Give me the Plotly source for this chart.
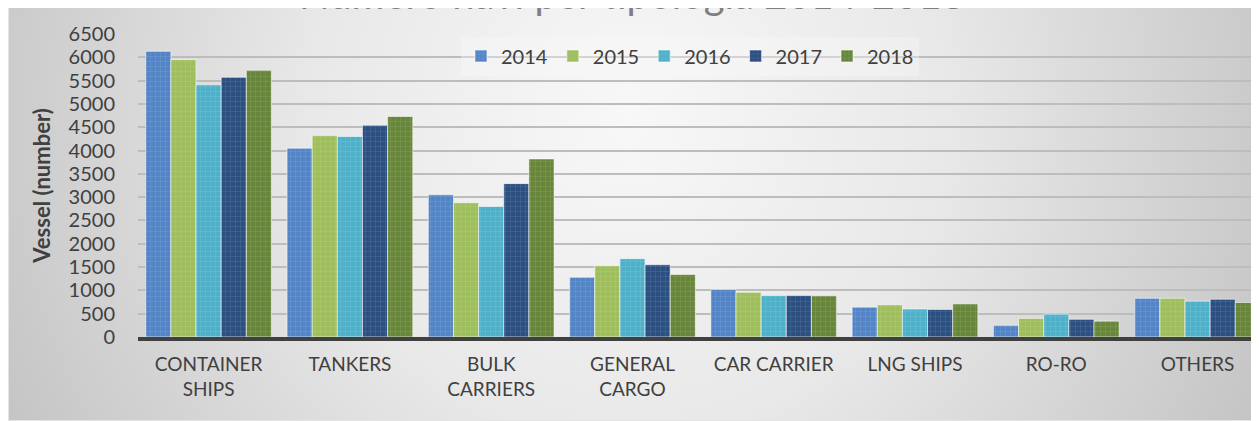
import base64
import plotly.graph_objects as go

categories = ["CONTAINER<br>SHIPS", "TANKERS", "BULK<br>CARRIERS", "GENERAL<br>CARGO",
              "CAR CARRIER", "LNG SHIPS", "RO-RO", "OTHERS"]
years = ["2014", "2015", "2016", "2017", "2018"]
v2014 = [6130, 4050, 3050, 1280, 1020, 640, 250, 830]
v2015 = [5950, 4320, 2880, 1530, 960, 690, 400, 830]
v2016 = [5410, 4300, 2800, 1680, 890, 600, 490, 770]
v2017 = [5570, 4540, 3290, 1550, 890, 590, 380, 810]
v2018 = [5720, 4730, 3820, 1340, 885, 710, 340, 740]
series = [v2014, v2015, v2016, v2017, v2018]
colors = ["#5385c6", "#9fbe5c", "#4fb0c9", "#2c4f82", "#68863a"]
yticks = list(range(0, 6501, 500))

# figure sits at page offset (8, 8) because of the body margin
W, H = 1251, 413
ML, MT, MB = 130, 26, 84
PW = W - ML
PH = H - MT - MB

fig = go.Figure()
for name, vals, col in zip(years, series, colors):
    fig.add_trace(go.Bar(
        name=name, x=categories, y=vals,
        marker=dict(color=col,
                    line=dict(color="rgba(255,255,255,0.55)", width=1),
                    pattern=dict(shape="+", fgcolor="rgba(255,255,255,0.4)",
                                 size=5, solidity=0.16)),
    ))

svg = ('<svg xmlns="http://www.w3.org/2000/svg" width="1251" height="415" viewBox="0 0 1251 415" '
       'preserveAspectRatio="none"><defs><radialGradient id="g" gradientUnits="userSpaceOnUse" '
       'cx="620" cy="110" r="720"><stop offset="0" stop-color="#f8f8f8"/>'
       '<stop offset="0.45" stop-color="#e8e8e8"/><stop offset="1" stop-color="#c2c2c2"/>'
       '</radialGradient></defs><rect x="0" y="0" width="1251" height="415" fill="url(#g)" '
       'stroke="#e4e4e4" stroke-width="2"/></svg>')
src = "data:image/svg+xml;base64," + base64.b64encode(svg.encode()).decode()


def px2x(p):
    return (p - ML) / PW


def px2y(p):
    return (MT + PH - p) / PH


fig.add_layout_image(dict(source=src, xref="paper", yref="paper",
                          x=px2x(0), y=px2y(-2), sizex=px2x(W) - px2x(0),
                          sizey=px2y(-2) - px2y(H), sizing="stretch",
                          xanchor="left", yanchor="top", layer="below"))

fig.add_annotation(text="Numero navi per tipologia 2014-2018", xref="paper", yref="paper",
                   x=px2x(624), y=px2y(12), xanchor="center", yanchor="bottom",
                   showarrow=False, font=dict(family="Lato", size=40, color="#7f7f7f"))

fig.update_layout(
    width=W, height=H,
    margin=dict(l=ML, r=0, t=MT, b=MB, autoexpand=False),
    paper_bgcolor="white", plot_bgcolor="rgba(0,0,0,0)",
    barmode="group", bargap=0.11, bargroupgap=0,
    font=dict(family="Lato", color="#404040"),
    legend=dict(orientation="h", x=px2x(682), xanchor="center", y=px2y(48), yanchor="middle",
                bgcolor="rgba(250,250,250,0.35)", font=dict(size=20, color="#404040"),
                traceorder="normal"),
    xaxis=dict(range=[-0.5, 7.435], showline=True, linecolor="#404040", linewidth=4,
               tickfont=dict(size=19, color="#404040"), ticklabelstandoff=7,
               showgrid=False, zeroline=False, fixedrange=True),
    yaxis=dict(range=[0, 6500], tickvals=yticks, showgrid=True, gridcolor="#bdbdbd",
               gridwidth=2, zeroline=False, tickfont=dict(size=20, color="#404040"),
               ticklabelstandoff=22,
               title=dict(text="<b>Vessel (number)</b>", font=dict(size=22, color="#404040"),
                          standoff=11),
               fixedrange=True),
)

fig.write_html("out.html")
